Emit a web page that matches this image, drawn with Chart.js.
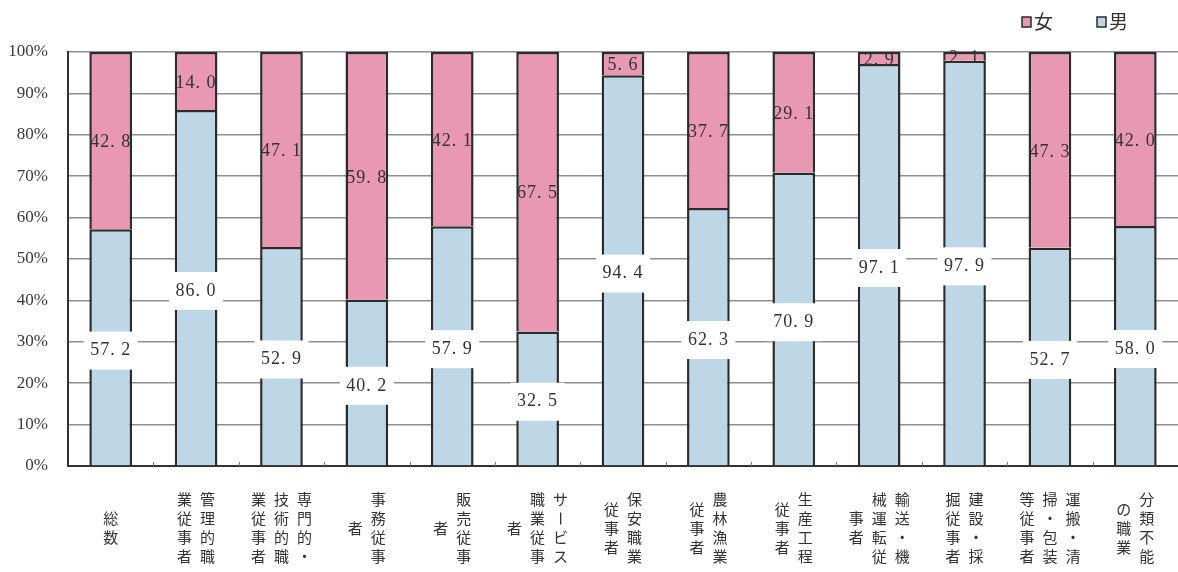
<!DOCTYPE html>
<html lang="ja">
<head>
<meta charset="utf-8">
<title>職業別 男女構成比</title>
<script src="https://cdn.jsdelivr.net/npm/chart.js@4.4.1/dist/chart.umd.min.js"></script>
<style>
  html, body { margin: 0; padding: 0; background: #fff; }
  #wrap { width: 1178px; height: 572px; }
</style>
</head>
<body>
<div id="wrap"><canvas id="c" width="1178" height="572"></canvas></div>
<script>
// occupation labels, one entry per vertical column (rightmost column first)
var CATEGORY_COLUMNS = [
  ['総数'],
  ['管理的職', '業従事者'],
  ['専門的・', '技術的職', '業従事者'],
  ['事務従事', '者'],
  ['販売従事', '者'],
  ['サービス', '職業従事', '者'],
  ['保安職業', '従事者'],
  ['農林漁業', '従事者'],
  ['生産工程', '従事者'],
  ['輸送・機', '械運転従', '事者'],
  ['建設・採', '掘従事者'],
  ['運搬・清', '掃・包装', '等従事者'],
  ['分類不能', 'の職業']
];
var CATEGORIES = CATEGORY_COLUMNS.map(function (c) { return c.join(''); });

var MALE   = [57.2, 86.0, 52.9, 40.2, 57.9, 32.5, 94.4, 62.3, 70.9, 97.1, 97.9, 52.7, 58.0];
var FEMALE = [42.8, 14.0, 47.1, 59.8, 42.1, 67.5, 5.6, 37.7, 29.1, 2.9, 2.1, 47.3, 42.0];

var Y_MAX = 100, Y_STEP = 10;

var PINK = '#e898b3', BLUE = '#bed7e7', EDGE = '#2b2b2b', INK = '#333';
var NUM_FONT = '"Liberation Serif", "DejaVu Serif", serif';
var JP_FONT = '"Noto Sans CJK JP", "Noto Sans", sans-serif';

function fmt(v) { return v.toFixed(1).replace('.', '. '); }

// value labels, boundary ticks, vertical category names, legend
var decor = {
  id: 'decor',
  beforeDraw: function (chart) {
    var ctx = chart.ctx;
    ctx.save();
    ctx.fillStyle = '#fff';
    ctx.fillRect(0, 0, chart.width, chart.height);
    ctx.restore();
  },
  afterDatasetsDraw: function (chart) {
    var ctx = chart.ctx, xs = chart.scales.x, ys = chart.scales.y, area = chart.chartArea;
    var step = (xs.right - xs.left) / CATEGORIES.length;

    ctx.save();
    // small marks on the base line between categories
    ctx.strokeStyle = '#777';
    ctx.lineWidth = 1;
    for (var k = 1; k < CATEGORIES.length; k++) {
      var bx = Math.round(xs.left + k * step) + 0.5;
      ctx.beginPath(); ctx.moveTo(bx, area.bottom); ctx.lineTo(bx, area.bottom - 4); ctx.stroke();
    }

    ctx.font = '18px ' + NUM_FONT;
    ctx.textAlign = 'center';
    ctx.textBaseline = 'middle';
    ctx.letterSpacing = '1px';
    CATEGORIES.forEach(function (_, i) {
      var cx = xs.getPixelForValue(i);
      // male share: white box over the bar
      var my = ys.getPixelForValue(MALE[i] / 2) + 3;
      ctx.fillStyle = '#fff';
      ctx.fillRect(cx - 27, my - 19, 54, 38);
      ctx.fillStyle = INK;
      ctx.fillText(fmt(MALE[i]), cx, my);
      // female share: plain text in the upper segment
      var fy = ys.getPixelForValue(MALE[i] + FEMALE[i] / 2) + 2;
      ctx.fillText(fmt(FEMALE[i]), cx, fy);
    });
    ctx.letterSpacing = '0px';

    // vertical category names, columns read right to left
    ctx.font = '15px ' + JP_FONT;
    ctx.fillStyle = INK;
    var pitch = 19, gap = 23, top = area.bottom + 24;
    CATEGORY_COLUMNS.forEach(function (cols, i) {
      var cx = xs.getPixelForValue(i);
      var n = cols.length;
      cols.forEach(function (col, c) {
        var x = cx + ((n - 1) / 2 - c) * gap;
        var chars = Array.from(col);
        var y0 = top + (4 - chars.length) * pitch / 2;
        chars.forEach(function (ch, j) {
          var y = y0 + j * pitch + pitch / 2;
          if (ch === 'ー') {
            ctx.save(); ctx.translate(x, y); ctx.rotate(Math.PI / 2);
            ctx.fillText(ch, 0, 0); ctx.restore();
          } else {
            ctx.fillText(ch, x, y);
          }
        });
      });
    });

    // legend, 女 then 男
    var items = [chart.data.datasets[1], chart.data.datasets[0]];
    var lx = [1022, 1097], ly = 22;
    ctx.font = '19px ' + JP_FONT;
    ctx.textAlign = 'left';
    items.forEach(function (ds, k) {
      ctx.fillStyle = ds.backgroundColor;
      ctx.fillRect(lx[k], ly - 5, 9, 10);
      ctx.strokeStyle = EDGE; ctx.lineWidth = 1.5;
      ctx.strokeRect(lx[k], ly - 5, 9, 10);
      ctx.fillStyle = INK;
      ctx.fillText(ds.label, lx[k] + 12, ly);
    });
    ctx.restore();
  }
};

new Chart(document.getElementById('c'), {
  type: 'bar',
  data: {
    labels: CATEGORIES,
    datasets: [
      { label: '男', data: MALE, backgroundColor: BLUE, borderColor: EDGE, borderWidth: 2.5,
        barPercentage: 0.5, categoryPercentage: 1 },
      { label: '女', data: FEMALE, backgroundColor: PINK, borderColor: EDGE, borderWidth: 2.5,
        barPercentage: 0.5, categoryPercentage: 1 }
    ]
  },
  options: {
    responsive: false,
    animation: false,
    layout: { padding: { top: 52, bottom: 106, left: 0, right: 0 } },
    plugins: { legend: { display: false }, tooltip: { enabled: false } },
    scales: {
      x: {
        stacked: true,
        ticks: { display: false },
        grid: { display: false, drawTicks: false },
        border: { display: true, color: INK, width: 2 },
        afterFit: function (s) { s.height = 0; }
      },
      y: {
        stacked: true,
        min: 0, max: Y_MAX,
        ticks: { stepSize: Y_STEP, padding: 20, color: '#3a3a3a',
                 font: { family: NUM_FONT, size: 17 },
                 callback: function (v) { return v + '%'; } },
        grid: { color: '#8f8f8f', lineWidth: 1.5, drawTicks: false },
        border: { display: true, color: INK, width: 2 },
        afterFit: function (s) { s.width = 68; }
      }
    }
  },
  plugins: [decor]
});
</script>
</body>
</html>
